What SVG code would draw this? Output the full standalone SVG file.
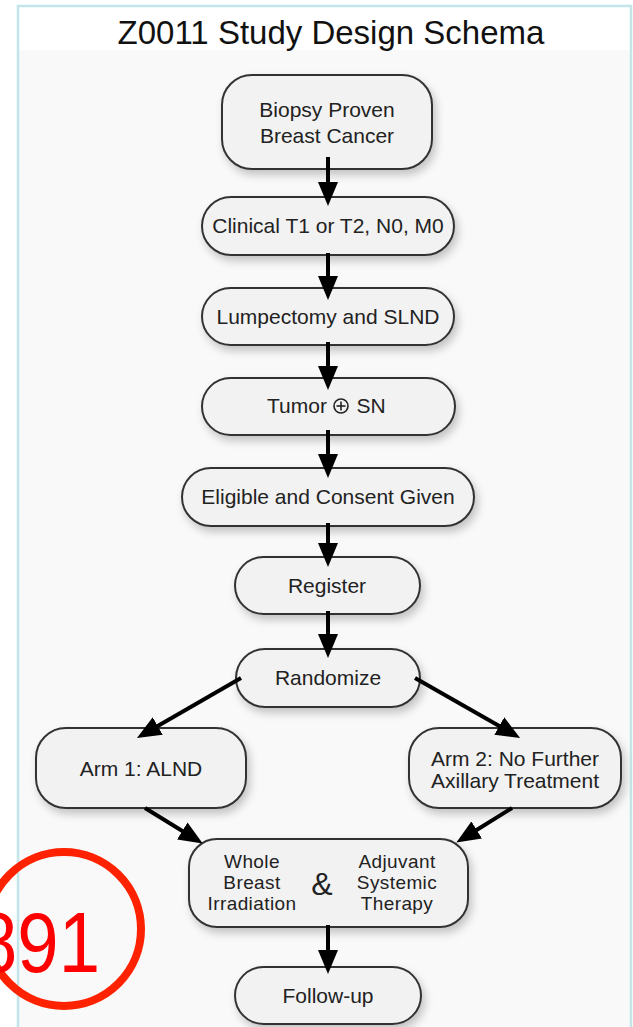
<svg xmlns="http://www.w3.org/2000/svg" width="633" height="1027" viewBox="0 0 633 1027">
  <style>
    .node rect { fill: #f2f2f2; stroke: #333333; stroke-width: 2; filter: url(#shadow); }
    .node text { font-family: "Liberation Sans", Arial, sans-serif; font-size: 21px; fill: #222222; text-anchor: middle; }
    .node text.small { font-size: 19px; letter-spacing: 0.4px; }
    .conn line { stroke: #000000; stroke-width: 4; marker-end: url(#arrow); }
    .title { font-family: "Liberation Sans", Arial, sans-serif; font-size: 33px; fill: #111111; text-anchor: middle; }
  </style>
  <defs>
    <filter id="shadow" x="-20%" y="-30%" width="150%" height="170%">
      <feDropShadow dx="3" dy="5" stdDeviation="4" flood-color="#000000" flood-opacity="0.22"/>
    </filter>
    <marker id="arrow" markerUnits="userSpaceOnUse" markerWidth="24" markerHeight="20" viewBox="0 0 24 20" refX="2" refY="10" orient="auto">
      <path d="M0,0 L24,10 L0,20 z" fill="#000000"/>
    </marker>
  </defs>

  <rect x="0" y="0" width="633" height="1027" fill="#ffffff"/>
  <rect x="18" y="50" width="613" height="990" fill="#f9f9f9"/>
  <rect x="18" y="6" width="613" height="1030" fill="none" stroke="#c3e5ea" stroke-width="2.5"/>

  <text class="title" x="331" y="44">Z0011 Study Design Schema</text>

  <g id="n-biopsy" class="node">
    <rect x="222" y="75" width="210" height="94" rx="30"/>
    <text x="327" y="117">Biopsy Proven</text>
    <text x="327" y="143">Breast Cancer</text>
  </g>
  <g id="n-clinical" class="node">
    <rect x="202" y="197" width="252" height="58" rx="29"/>
    <text x="328" y="233">Clinical T1 or T2, N0, M0</text>
  </g>
  <g id="n-lumpectomy" class="node">
    <rect x="202" y="288" width="252" height="57" rx="28.5"/>
    <text x="328" y="324">Lumpectomy and SLND</text>
  </g>
  <g id="n-tumor" class="node">
    <rect x="202" y="378" width="253" height="57" rx="28.5"/>
    <text x="297" y="413">Tumor</text>
    <circle cx="341" cy="406" r="7" fill="none" stroke="#222222" stroke-width="1.6"/>
    <line x1="336.5" y1="406" x2="345.5" y2="406" stroke="#222222" stroke-width="1.6"/>
    <line x1="341" y1="401.5" x2="341" y2="410.5" stroke="#222222" stroke-width="1.6"/>
    <text x="371" y="413">SN</text>
  </g>
  <g id="n-eligible" class="node">
    <rect x="182" y="468" width="292" height="58" rx="29"/>
    <text x="328" y="504">Eligible and Consent Given</text>
  </g>
  <g id="n-register" class="node">
    <rect x="235" y="557" width="185" height="57" rx="28.5"/>
    <text x="327" y="593">Register</text>
  </g>
  <g id="n-randomize" class="node">
    <rect x="236" y="649" width="184" height="58" rx="29"/>
    <text x="328" y="685">Randomize</text>
  </g>
  <g id="n-arm1" class="node">
    <rect x="36" y="728" width="210" height="80" rx="30"/>
    <text x="141" y="776">Arm 1: ALND</text>
  </g>
  <g id="n-arm2" class="node">
    <rect x="409" y="728" width="212" height="80" rx="30"/>
    <text x="515" y="766">Arm 2: No Further</text>
    <text x="515" y="788">Axillary Treatment</text>
  </g>
  <g id="n-treatment" class="node">
    <rect x="189" y="839" width="279" height="88" rx="28"/>
    <text class="small" x="252" y="868">Whole</text>
    <text class="small" x="252" y="889">Breast</text>
    <text class="small" x="252" y="910">Irradiation</text>
    <text x="322" y="895" style="font-size:32px">&amp;</text>
    <text class="small" x="397" y="868">Adjuvant</text>
    <text class="small" x="397" y="889">Systemic</text>
    <text class="small" x="397" y="910">Therapy</text>
  </g>
  <g id="n-followup" class="node">
    <rect x="235" y="967" width="186" height="57" rx="28.5"/>
    <text x="328" y="1003">Follow-up</text>
  </g>

  <g id="connectors" class="conn">
    <line x1="328" y1="157" x2="328" y2="184"/>
    <line x1="328" y1="253" x2="328" y2="278"/>
    <line x1="328" y1="342" x2="328" y2="368"/>
    <line x1="328" y1="430" x2="328" y2="456"/>
    <line x1="328" y1="523" x2="328" y2="545"/>
    <line x1="328" y1="611" x2="328" y2="636"/>
    <line x1="241" y1="678" x2="156" y2="727"/>
    <line x1="415" y1="678" x2="501" y2="727"/>
    <line x1="145" y1="808" x2="184" y2="832"/>
    <line x1="512" y1="808" x2="475" y2="831"/>
    <line x1="328" y1="925" x2="328" y2="952"/>
  </g>

  <g id="stamp">
    <circle cx="64" cy="929" r="77" fill="none" stroke="#ff2200" stroke-width="8"/>
    <text x="100" y="972" font-family="'Liberation Sans', Arial, sans-serif" font-size="86" fill="#ff0000" text-anchor="end" textLength="124" lengthAdjust="spacingAndGlyphs">891</text>
  </g>
</svg>
